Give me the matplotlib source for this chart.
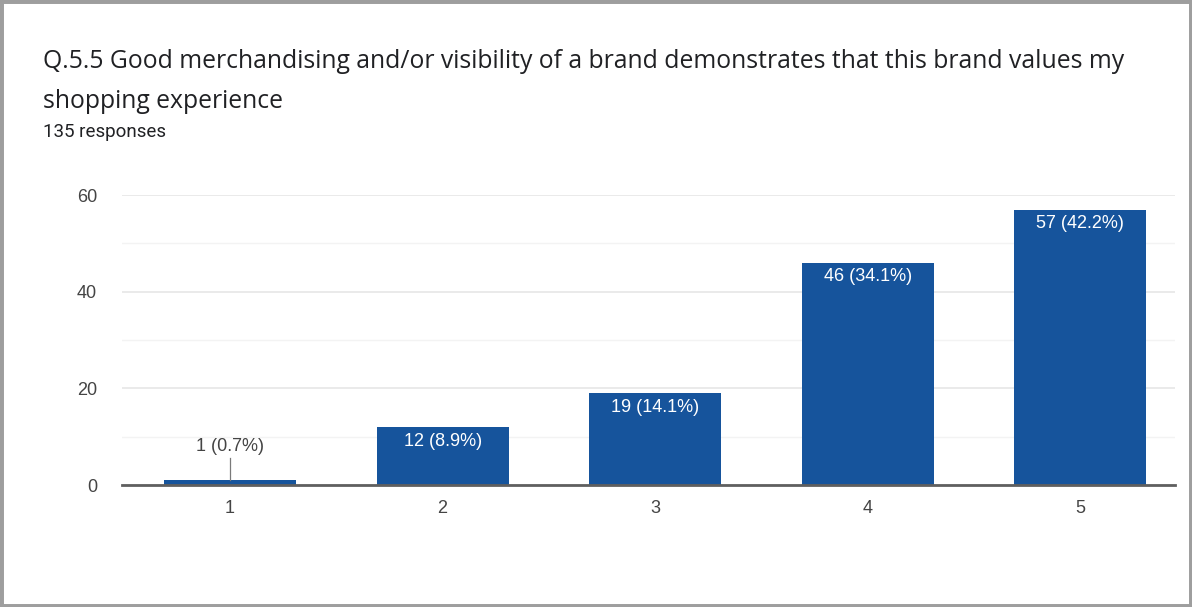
import matplotlib
matplotlib.use("Agg")
import matplotlib.pyplot as plt
from matplotlib.patches import Rectangle

categories = ["1", "2", "3", "4", "5"]
counts = [1, 12, 19, 46, 57]
percents = [0.7, 8.9, 14.1, 34.1, 42.2]
y_ticks = [0, 20, 40, 60]

title_lines = ["Q.5.5 Good merchandising and/or visibility of a brand demonstrates that this brand values my",
               "shopping experience"]
subtitle = "135 responses"

W, H = 1192, 607
fig = plt.figure(figsize=(W / 100, H / 100), dpi=100)
fig.patch.set_facecolor("white")
plt.rcParams["font.family"] = ["Liberation Sans", "DejaVu Sans"]

# frame around the card
fig.add_artist(Rectangle((0, 0), 1, 1, transform=fig.transFigure, fill=False,
                         edgecolor="#9e9e9e", linewidth=5))

left, right = 122 / W, 1175 / W
bottom, top = 1 - 485 / H, 1 - 195 / H
ax = fig.add_axes([left, bottom, right - left, top - bottom])

x = list(range(1, len(categories) + 1))
bar_color = "#16549c"
ax.bar(x, counts, width=0.62, color=bar_color, zorder=3)

ax.set_xlim(0.492, 5.445)
ax.set_ylim(0, 60)
ax.set_yticks(y_ticks)
ax.set_yticks([10, 30, 50], minor=True)
ax.set_xticks(x)
ax.set_xticklabels(categories)
ax.grid(axis="y", which="major", color="#e6e6e6", linewidth=1.2, zorder=0)
ax.grid(axis="y", which="minor", color="#f3f3f3", linewidth=1.0, zorder=0)
for s in ["top", "right", "left"]:
    ax.spines[s].set_visible(False)
ax.spines["bottom"].set_color("#5f5f5f")
ax.spines["bottom"].set_linewidth(2)
ax.spines["bottom"].set_zorder(4)
ax.tick_params(axis="both", which="both", length=0, labelsize=13, labelcolor="#444444")
ax.tick_params(axis="y", pad=18)
ax.tick_params(axis="x", pad=11)

for xi, c, p in zip(x, counts, percents):
    label = f"{c} ({p}%)"
    if c < 5:
        ax.plot([xi, xi], [c, c + 4.5], color="#7a7a7a", linewidth=0.9, zorder=4)
        ax.text(xi, c + 5.2, label, ha="center", va="bottom", fontsize=13,
                color="#444444", zorder=5)
    else:
        ax.text(xi, c - 1.2, label, ha="center", va="top", fontsize=13,
                color="white", zorder=5)

title_font = ["Open Sans", "DejaVu Sans"]
fig.text(43 / W, 1 - 68 / H, title_lines[0], ha="left", va="baseline", fontsize=17.8,
         color="#202124", family=title_font)
fig.text(43 / W, 1 - 108 / H, title_lines[1], ha="left", va="baseline", fontsize=17.8,
         color="#202124", family=title_font)
fig.text(43 / W, 1 - 137 / H, subtitle, ha="left", va="baseline", fontsize=13.5,
         color="#202124", family=["Roboto", "DejaVu Sans"])

fig.savefig("out.png", dpi=100, facecolor="white")
